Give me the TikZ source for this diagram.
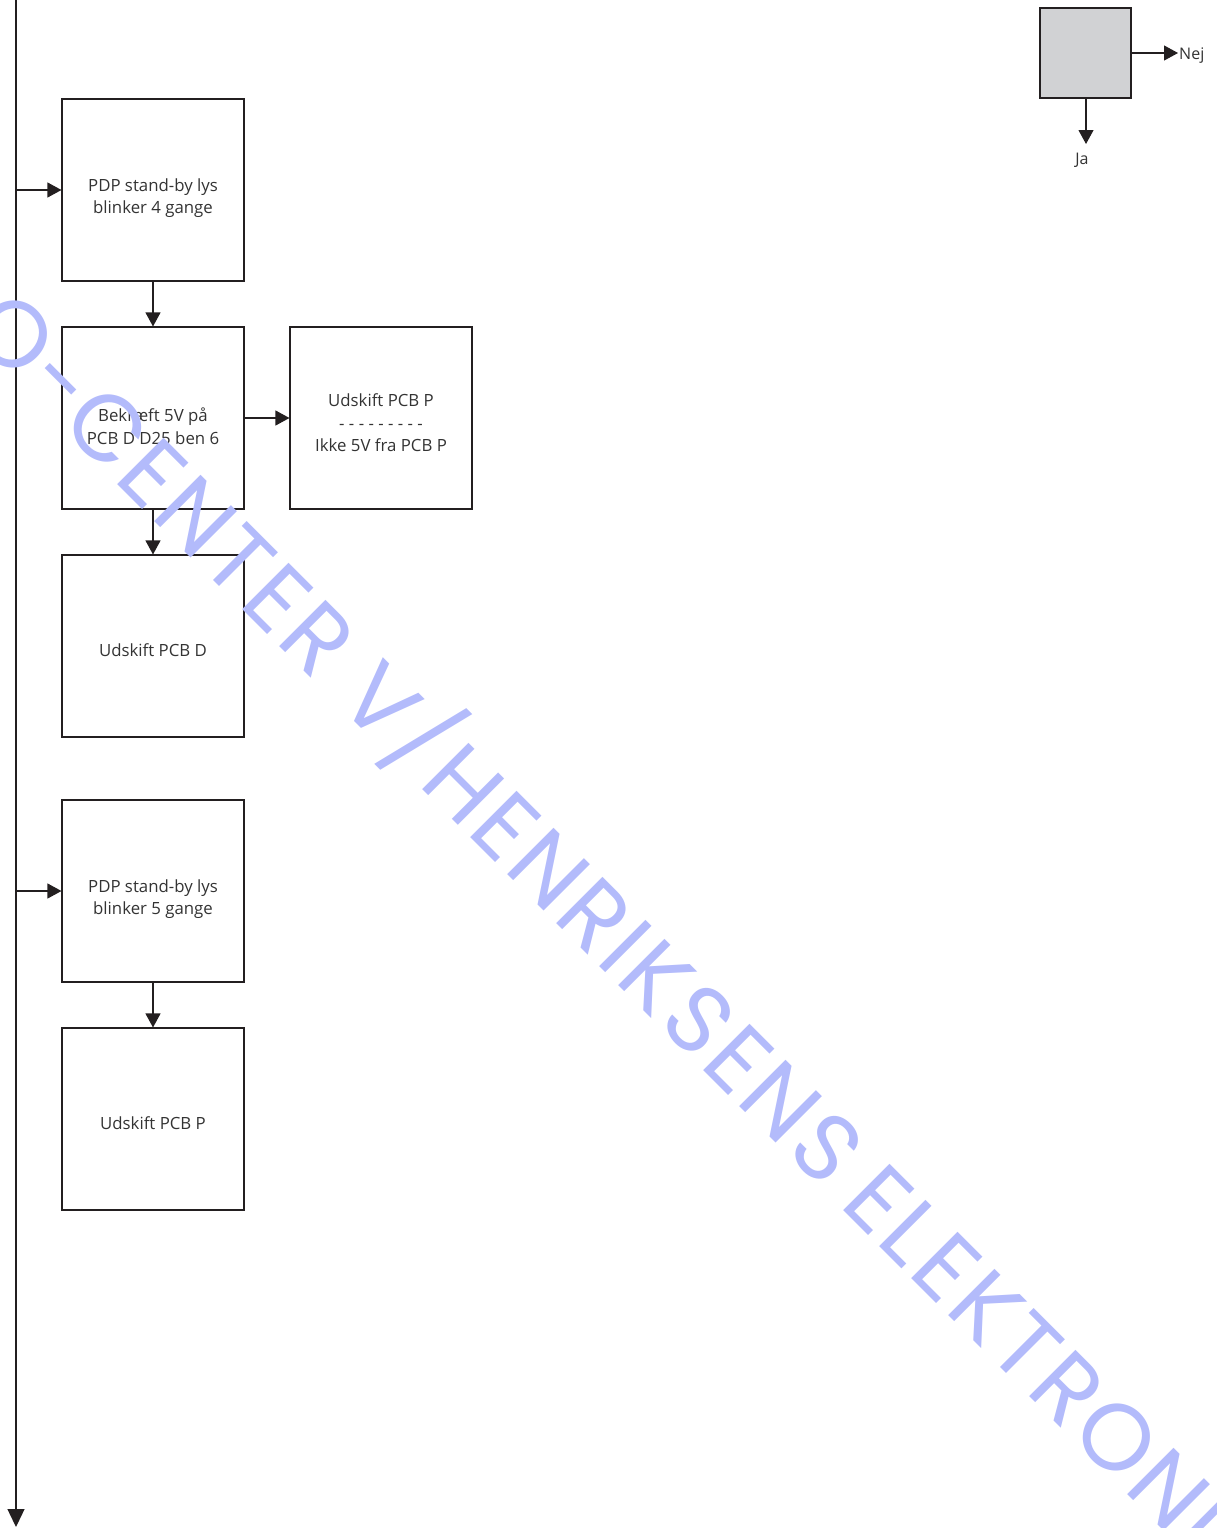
\documentclass[tikz,border=0pt]{standalone}
\usepackage{fontspec}
\setmainfont{Open Sans}
\newfontfamily\wmfont[LetterSpace=4]{Poppins}
\usetikzlibrary{arrows.meta}
\definecolor{ink}{HTML}{231F20}
\definecolor{txt}{HTML}{333333}
\definecolor{legendgray}{HTML}{D1D2D4}
\definecolor{wmblue}{HTML}{B3BBFB}
\tikzset{
  stepbox/.style={draw=ink, line width=1.1pt, minimum width=182pt, minimum height=182pt,
    inner sep=0pt},
  boxtxt/.style={align=center, text=txt, inner sep=0pt, font=\fontsize{16.8}{22.5}\selectfont},
  conn/.style={draw=ink, line width=1.1pt, -{Triangle[length=14pt,width=15pt]}},
  lbl/.style={text=txt, font=\fontsize{16}{20}\selectfont, inner sep=0pt},
  wm/.style={wmblue, rotate=-45, inner sep=0pt, font=\wmfont\fontsize{94}{94}\selectfont},
}
\begin{document}
\begin{tikzpicture}[x=1pt,y=-1pt]
\useasboundingbox (0,0) rectangle (1216,1528);
\clip (0,0) rectangle (1216,1528);
% main vertical line
\coordinate (top) at (16,0);
\coordinate (bot) at (16,1527);
\draw[draw=ink, line width=1.3pt, -{Triangle[length=18pt,width=17pt]}] (top) -- (bot);
% boxes
\node[stepbox, label={[boxtxt, yshift=-8pt]center:{PDP stand-by lys\\blinker 4 gange}}] (b1) at (153,190) {};
\node[stepbox, label={[boxtxt, yshift=-8pt]center:{Bekræft 5V på\\PCB D D25 ben 6}}] (b2) at (153,418) {};
\node[stepbox, label={[boxtxt, yshift=-5pt]center:{Udskift PCB P\\- - - - - - - - -\\Ikke 5V fra PCB P}}] (b3) at (381,418) {};
\node[stepbox, label={[boxtxt, yshift=-4pt]center:{Udskift PCB D}}] (b4) at (153,646) {};
\node[stepbox, label={[boxtxt, yshift=-8pt]center:{PDP stand-by lys\\blinker 5 gange}}] (b5) at (153,891) {};
\node[stepbox, label={[boxtxt, yshift=-4pt]center:{Udskift PCB P}}] (b6) at (153,1119) {};
% taps from main line
\coordinate (t1) at (16,190);
\coordinate (t5) at (16,891);
\draw[conn] (t1) -- (b1.west);
\draw[conn] (t5) -- (b5.west);
\draw[conn] (b1.south) -- (b2.north);
\draw[conn] (b2.east) -- (b3.west);
\draw[conn] (b2.south) -- (b4.north);
\draw[conn] (b5.south) -- (b6.north);
% legend
\node[draw=ink, fill=legendgray, line width=1.1pt, minimum width=91pt, minimum height=90pt, inner sep=0pt] (leg) at (1085.5,53) {};
\node[lbl, anchor=west] (nej) at (1179,56) {Nej};
\node[lbl] (ja) at (1082,160) {Ja};
\coordinate (nejtip) at (1178,53);
\coordinate (jatip) at (1086,144);
\draw[conn] (leg.east) -- (nejtip);
\draw[conn] (leg.south -| jatip) -- (jatip);
% watermark
\node[wm, anchor=base east] (wm1) at (838,1205) {O-CENTER V/HENRIKSENS\kern0.22em};
\node[wm, anchor=base west] (wm2) at (838,1205) {ELEKTRONIK};
\end{tikzpicture}
\end{document}
